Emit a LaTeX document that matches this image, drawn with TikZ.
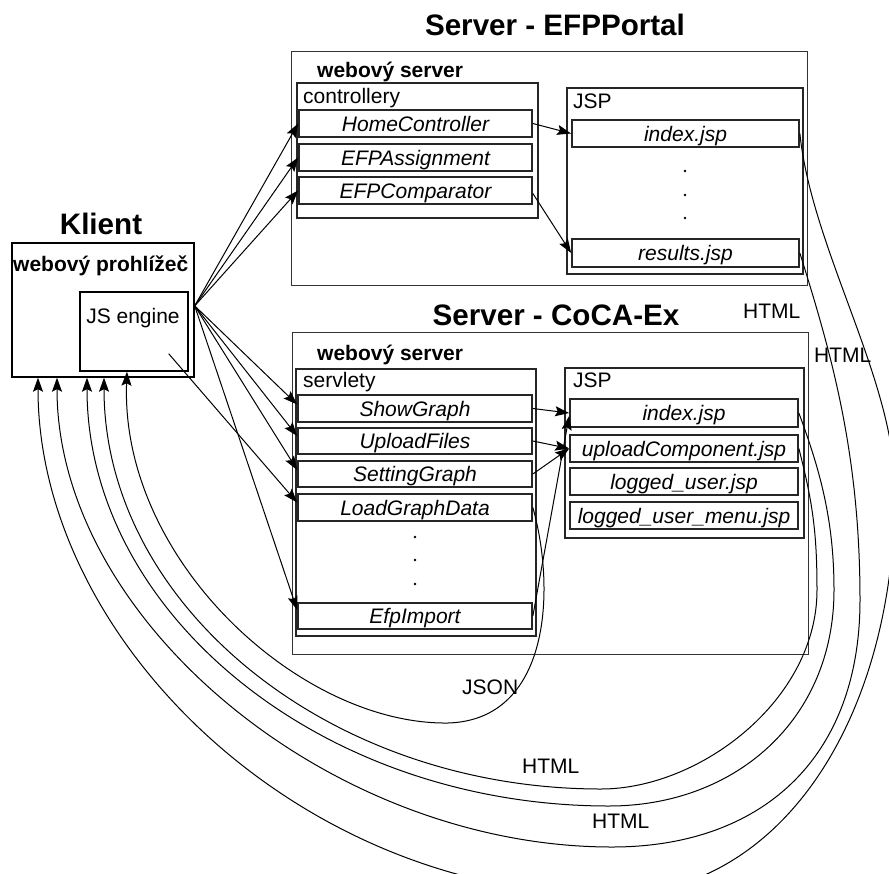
\documentclass[tikz,border=0pt]{standalone}
\usepackage{fontspec}
\setmainfont{Liberation Sans}
\usetikzlibrary{arrows.meta,calc}

\begin{document}
\begin{tikzpicture}[x=1pt,y=-1pt,
  container/.style={draw=black!80, line width=1.2pt, inner sep=0pt, anchor=north west},
  panel/.style={draw=black!85, line width=1.7pt, inner sep=0pt, anchor=north west},
  item/.style={draw=black!85, line width=1.7pt, inner sep=0pt, text height=15pt, text depth=0pt,
               font=\itshape\fontsize{21}{25}\selectfont},
  caption/.style={inner sep=0pt, anchor=base west, font=\fontsize{21}{25}\selectfont},
  heading/.style={caption, font=\bfseries\fontsize{21}{25}\selectfont},
  bigtitle/.style={inner sep=0pt, anchor=base, font=\bfseries\fontsize{29.6}{34}\selectfont},
  link/.style={-{Stealth[length=14pt,width=10pt,inset=2.5pt]}, line width=1pt},
  dotmark/.style={fill=black},
]
\fill[white] (0,0) rectangle (889,873);
\useasboundingbox (0,0) rectangle (889,873);

% titles
\node[bigtitle] (t1) at (555,35) {Server - EFPPortal};
\node[bigtitle] (t2) at (556,325) {Server - CoCA-Ex};
\node[bigtitle] (t3) at (101,234) {Klient};

% client
\node[panel, draw=black, minimum width=182, minimum height=134] (klient) at (11,242) {};
\node[panel, draw=black, minimum width=108, minimum height=79] (js) at (79,291) {};
\node[heading] (kb) at (13,271) {webový prohlížeč};
\node[caption, anchor=base] (jst) at (133,323) {JS engine};

% server EFPPortal
\node[container, minimum width=516, minimum height=234] (efp) at (291,51) {};
\node[heading] (ws1) at (317,77) {webový server};
\node[panel, minimum width=241, minimum height=135] (ctrl) at (296,82) {};
\node[caption] (ctrlt) at (303,103) {controllery};
\node[item, minimum width=233, minimum height=27] (hc) at (415.5,123.5) {HomeController};
\node[item, minimum width=233, minimum height=27] (ea) at (415.5,157.5) {EFPAssignment};
\node[item, minimum width=233, minimum height=27] (ec) at (415.5,190.5) {EFPComparator};
\node[panel, minimum width=236, minimum height=186] (jsp1) at (566,87) {};
\node[caption] (jsp1t) at (573,108) {JSP};
\node[item, minimum width=227, minimum height=27] (idx1) at (685.5,133.5) {index.jsp};
\node[item, minimum width=227, minimum height=28] (res) at (685.5,253) {results.jsp};
\foreach \y in {171,195,218} \fill[dotmark] (685,\y) circle (1.3);

% server CoCA-Ex
\node[container, minimum width=516, minimum height=322] (coca) at (292,332) {};
\node[heading] (ws2) at (317,360) {webový server};
\node[panel, minimum width=240, minimum height=267] (srv) at (295,368) {};
\node[caption] (srvt) at (303,387) {servlety};
\node[item, minimum width=234, minimum height=27] (sg) at (415,408.5) {ShowGraph};
\node[item, minimum width=234, minimum height=26] (uf) at (415,441) {UploadFiles};
\node[item, minimum width=234, minimum height=26] (stg) at (415,474) {SettingGraph};
\node[item, minimum width=234, minimum height=27] (lgd) at (415,507.5) {LoadGraphData};
\node[item, minimum width=234, minimum height=26] (efi) at (415,616) {EfpImport};
\foreach \y in {537,560,584} \fill[dotmark] (415,\y) circle (1.3);
\node[panel, minimum width=239, minimum height=170] (jsp2) at (564,367) {};
\node[caption] (jsp2t) at (573,387) {JSP};
\node[item, minimum width=228, minimum height=28] (idx2) at (684,413) {index.jsp};
\node[item, minimum width=228, minimum height=27] (upc) at (684,448.5) {uploadComponent.jsp};
\node[item, minimum width=228, minimum height=27] (lu) at (684,481.5) {logged\_user.jsp};
\node[item, minimum width=228, minimum height=27] (lum) at (684,515.5) {logged\_user\_menu.jsp};

% connector labels
\node[caption] (h1) at (743,318) {HTML};
\node[caption] (h2) at (814,362) {HTML};
\node[caption] (h3) at (522,773) {HTML};
\node[caption] (h4) at (592,828) {HTML};
\node[caption] (jl) at (462,694) {JSON};

% requests from the browser
\coordinate (cl) at ([yshift=4pt]klient.east);
\draw[link] (cl) -- (hc.west);
\draw[link] (cl) -- (ea.west);
\draw[link] (cl) -- (ec.west);
\draw[link] (cl) -- ([yshift=4pt]sg.west);
\draw[link] (cl) -- ([yshift=5pt]uf.west);
\draw[link] (cl) -- ([yshift=4pt]stg.west);
\draw[link] (cl) -- ([yshift=6pt]efi.west);
\coordinate (jsout) at ([xshift=-20pt,yshift=18pt]js.south east);
\draw[link] (jsout) -- ([yshift=5pt]lgd.west);

% controllers / servlets to views
\draw[link] (hc.east) -- (idx1.west);
\draw[link] ([yshift=-3pt]ec.east) -- (res.west);
\draw[link] (sg.east) -- (idx2.west);
\draw[link] (uf.east) -- (upc.west);
\draw[link] (stg.east) -- (upc.west);
\draw[link] (efi.east) -- ([yshift=-3pt]idx2.west);

% responses back to the browser
\begin{scope}
\clip (0,0) rectangle (889,873);
\draw[link] (idx1.east) .. controls (812,250) and (895,380) .. (895,490)
  .. controls (895,720) and (780,895) .. (610,895)
  .. controls (300,895) and (38,640) .. ([xshift=27pt]klient.south west);
\draw[link] (res.east) .. controls (830,350) and (860,450) .. (860,600)
  .. controls (860,760) and (760,847) .. (612,847)
  .. controls (330,847) and (57,620) .. ([xshift=46pt]klient.south west);
\draw[link] (idx2.east) .. controls (820,470) and (834,520) .. (834,590)
  .. controls (834,720) and (735,806) .. (609,806)
  .. controls (321,806) and (87,613) .. ([xshift=76pt]klient.south west);
\draw[link] (upc.east) .. controls (812,500) and (817,530) .. (817,590)
  .. controls (817,700) and (700,789) .. (601,789)
  .. controls (327,789) and (104,604) .. ([xshift=93pt]klient.south west);
\draw[link] (lgd.east) .. controls (556,590) and (550,720) .. (448,723)
  .. controls (300,725) and (120,560) .. ([xshift=48pt]js.south west);
\end{scope}
\end{tikzpicture}
\end{document}
